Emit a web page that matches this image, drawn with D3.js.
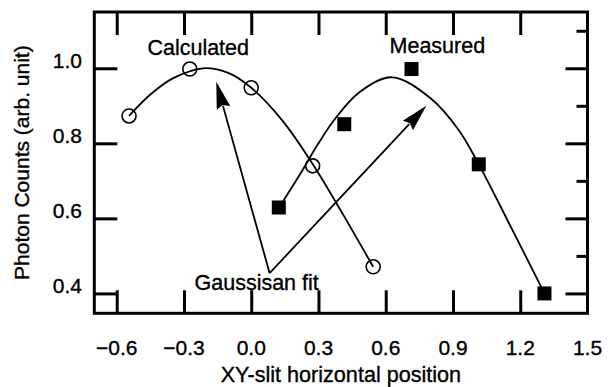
<!DOCTYPE html>
<html>
<head>
<meta charset="utf-8">
<script src="https://cdn.jsdelivr.net/npm/d3@7"></script>
<style>
  html, body { margin: 0; padding: 0; background: #fff; }
  svg text { font-family: "Liberation Sans", Arial, Helvetica, sans-serif; fill: #000; stroke: #000; stroke-width: 0.35px; }
</style>
</head>
<body>
<div id="chart"></div>
<script>
// calculated profile (open circles)
var calcX = [-0.545, -0.274, 0.0, 0.274, 0.544];
var calcY = [0.873, 0.998, 0.948, 0.74, 0.471];

// measured profile (filled squares)
var measX = [0.123, 0.415, 0.715, 1.015, 1.308];
var measY = [0.629, 0.851, 0.998, 0.744, 0.40];

// gaussian fit curves
var calcFitX = [-0.545, -0.45, -0.35, -0.216, -0.1, 0.0, 0.14, 0.274, 0.41, 0.544];
var calcFitY = [0.873, 0.93, 0.973, 1.0, 0.987, 0.948, 0.86, 0.745, 0.61, 0.471];
var measFitX = [0.125, 0.215, 0.3, 0.37, 0.48, 0.629, 0.8, 0.926, 1.015, 1.16, 1.308];
var measFitY = [0.63, 0.715, 0.8, 0.862, 0.935, 0.976, 0.92, 0.835, 0.744, 0.575, 0.40];

// axis ticks
var xTicks = [-0.6, -0.3, 0.0, 0.3, 0.6, 0.9, 1.2, 1.5];
var yTicks = [0.4, 0.6, 0.8, 1.0];
var yMinorTicks = [0.5, 0.7, 0.9, 1.1];

// annotation texts
var noteText = ['Calculated', 'Measured', 'Gaussisan fit'];

var width = 612, height = 387;
var fmt = d3.format('.1f');

var x = d3.scaleLinear().domain([-0.7, 1.5]).range([94.3, 587.5]);
var y = d3.scaleLinear().domain([0.347, 1.15]).range([313.3, 12]);

var svg = d3.select('#chart').append('svg')
    .attr('width', width)
    .attr('height', height);

// tick marks, all pointing inward
function ticks(axis, tx, ty) {
    var g = svg.append('g')
        .attr('transform', 'translate(' + tx + ',' + ty + ')')
        .call(axis.tickFormat(''));
    g.select('.domain').remove();
    g.selectAll('line').attr('stroke', '#000').attr('stroke-width', 3);
    return g;
}
var xInner = xTicks.filter(function (d) { return d < 1.5; });
ticks(d3.axisRight(y).tickValues(yTicks).tickSize(23), x.range()[0], 0);
ticks(d3.axisLeft(y).tickValues(yTicks).tickSize(22), x.range()[1], 0);
ticks(d3.axisLeft(y).tickValues(yMinorTicks).tickSize(11), x.range()[1], 0);
ticks(d3.axisTop(x).tickValues(xInner).tickSize(23), 0, y.range()[0]);
ticks(d3.axisBottom(x).tickValues(xInner).tickSize(23), 0, y.range()[1]);

svg.append('rect')
    .attr('x', x.range()[0])
    .attr('y', y.range()[1])
    .attr('width', x.range()[1] - x.range()[0])
    .attr('height', y.range()[0] - y.range()[1])
    .attr('fill', 'none')
    .attr('stroke', '#000')
    .attr('stroke-width', 3);

// tick labels
svg.append('g').selectAll('text')
    .data(xTicks)
    .enter().append('text')
    .attr('x', function (d) { return x(d); })
    .attr('y', 355)
    .attr('text-anchor', 'middle')
    .style('font-size', '21px')
    .text(fmt);

svg.append('g').selectAll('text')
    .data(yTicks)
    .enter().append('text')
    .attr('x', 82)
    .attr('y', function (d) { return y(d); })
    .attr('text-anchor', 'end')
    .style('font-size', '21px')
    .text(fmt);

// axis titles
svg.append('text')
    .attr('x', (x.range()[0] + x.range()[1]) / 2)
    .attr('y', 381.5)
    .attr('text-anchor', 'middle')
    .style('font-size', '21.6px')
    .text('XY-slit horizontal position');

svg.append('text')
    .attr('transform', 'translate(28.5,' + (y.range()[0] + y.range()[1]) / 2 + ') rotate(-90)')
    .attr('text-anchor', 'middle')
    .style('font-size', '21px')
    .text('Photon Counts (arb. unit)');

// fit curves
var line = d3.line()
    .x(function (d) { return x(d[0]); })
    .y(function (d) { return y(d[1]); })
    .curve(d3.curveCatmullRom);

[d3.zip(calcFitX, calcFitY), d3.zip(measFitX, measFitY)].forEach(function (pts) {
    svg.append('path')
        .attr('d', line(pts))
        .attr('fill', 'none')
        .attr('stroke', '#000')
        .attr('stroke-width', 1.8);
});

// markers
svg.append('g').selectAll('circle')
    .data(d3.zip(calcX, calcY))
    .enter().append('circle')
    .attr('cx', function (d) { return x(d[0]); })
    .attr('cy', function (d) { return y(d[1]); })
    .attr('r', 7)
    .attr('fill', 'none')
    .attr('stroke', '#000')
    .attr('stroke-width', 1.6);

var sq = 14;
svg.append('g').selectAll('rect')
    .data(d3.zip(measX, measY))
    .enter().append('rect')
    .attr('x', function (d) { return x(d[0]) - sq / 2; })
    .attr('y', function (d) { return y(d[1]) - sq / 2; })
    .attr('width', sq)
    .attr('height', sq)
    .attr('fill', '#000');

// annotations: label anchors in data units
var notePos = [[-0.463, 1.035], [0.617, 1.041], [-0.253, 0.409]];
svg.append('g').selectAll('text')
    .data(noteText)
    .enter().append('text')
    .attr('x', function (d, i) { return x(notePos[i][0]); })
    .attr('y', function (d, i) { return y(notePos[i][1]); })
    .style('font-size', '21.5px')
    .text(function (d) { return d; });

// arrows from the "Gaussisan fit" label to both curves
var arrowFrom = [0.082, 0.454];
var arrowTo = [[-0.156, 0.964], [0.781, 0.9]];
var headLen = 27, headHalf = 7;
arrowTo.forEach(function (t) {
    var x0 = x(arrowFrom[0]), y0 = y(arrowFrom[1]);
    var x1 = x(t[0]), y1 = y(t[1]);
    var dx = x1 - x0, dy = y1 - y0;
    var len = Math.sqrt(dx * dx + dy * dy);
    var ux = dx / len, uy = dy / len;
    var bx = x1 - ux * headLen, by = y1 - uy * headLen;
    svg.append('line')
        .attr('x1', x0).attr('y1', y0)
        .attr('x2', bx + ux * 2).attr('y2', by + uy * 2)
        .attr('stroke', '#000')
        .attr('stroke-width', 1.8);
    svg.append('path')
        .attr('d', 'M' + x1 + ',' + y1 +
            'L' + (bx - uy * headHalf) + ',' + (by + ux * headHalf) +
            'L' + (bx + ux * 3) + ',' + (by + uy * 3) +
            'L' + (bx + uy * headHalf) + ',' + (by - ux * headHalf) + 'Z')
        .attr('fill', '#000');
});
</script>
</body>
</html>
